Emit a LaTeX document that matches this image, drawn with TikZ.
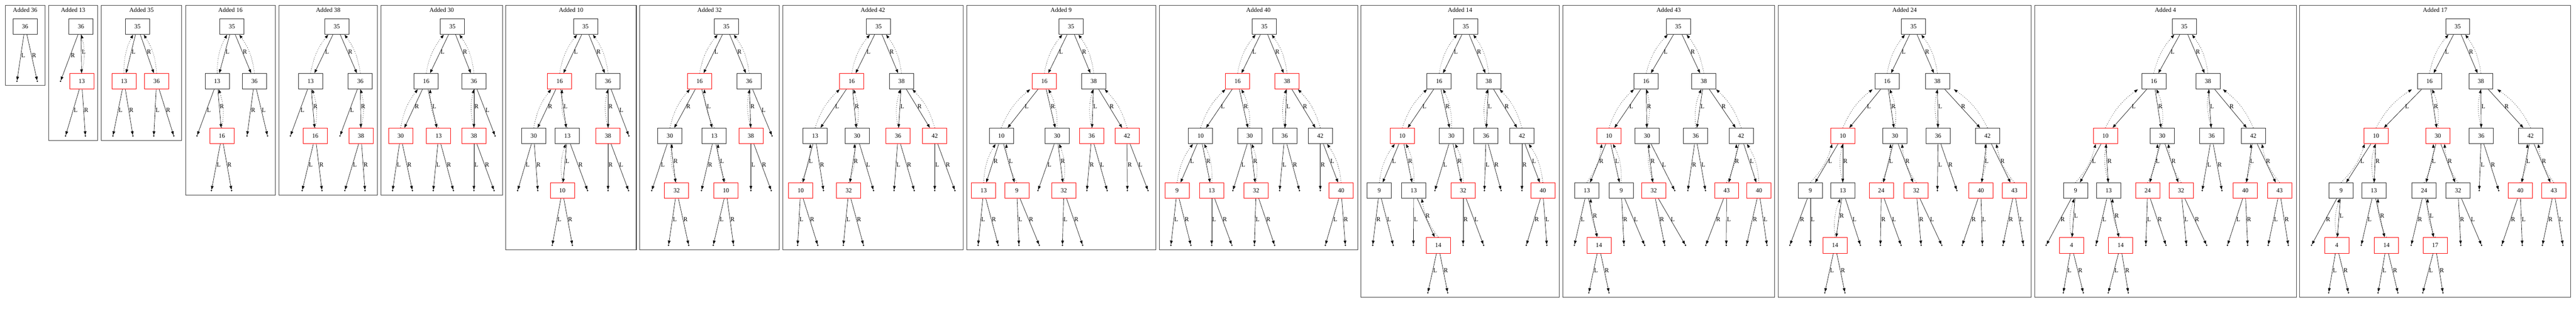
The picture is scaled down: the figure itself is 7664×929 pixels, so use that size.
\documentclass[tikz,border=0pt]{standalone}
\usepackage{fontspec}
\setmainfont{Liberation Serif}
\usepackage{tikz}
\usetikzlibrary{calc,arrows.meta}
\tikzset{>={Triangle[length=11pt,width=8pt]},
    blk/.style={draw=black!85, line width=1.3pt, minimum width=72pt, minimum height=47pt, inner sep=0pt},
    rd/.style={blk, draw=red}}

\begin{document}
\begin{tikzpicture}[x=1pt, y=-1pt, line width=1pt,
      font=\fontsize{18.5}{20}\selectfont,
      frame/.style={draw=black!75, line width=1.6pt},
      nil/.style={circle, fill=black, inner sep=0pt, minimum size=4.5pt},
      lab/.style={anchor=west, inner sep=1pt, pos=.45},
      pl/.style={->, dash pattern=on 1.5pt off 4.5pt, bend left=14},
      pr/.style={->, dash pattern=on 1.5pt off 4.5pt, bend right=14}]
  \useasboundingbox (0,0) rectangle (7664,929);
  % Added 36
  \draw[frame] (15.5,15.5) rectangle (134,254);
  \node (aT) at (74.75,29) {Added 36};
  \foreach \n/\x/\l/\s in {36/74.6/0/blk}
    \node[\s] (a\n) at (\x,79+162.5*\l) {\n};
  \foreach \n/\x/\l in {36L/50.5/1, 36R/111/1}
    \node[nil] (a\n) at (\x,79+162.5*\l) {};
  \foreach \p/\l/\r in {36/36L/36R}
    {\draw[->] (a\p) -- node[lab] {L} (a\l);
     \draw[->] (a\p) -- node[lab] {R} (a\r);}
  % Added 13
  \draw[frame] (145,15.5) rectangle (290,417);
  \node (bT) at (217.5,29) {Added 13};
  \foreach \n/\x/\l/\s in {36/241/0/blk, 13/243/1/rd}
    \node[\s] (b\n) at (\x,79+162.5*\l) {\n};
  \foreach \n/\x/\l in {36R/180/1, 13L/195/2, 13R/254/2}
    \node[nil] (b\n) at (\x,79+162.5*\l) {};
  \foreach \p/\l/\r in {36/13/36R, 13/13L/13R}
    {\draw[->] (b\p) -- node[lab] {L} (b\l);
     \draw[->] (b\p) -- node[lab] {R} (b\r);}
  \foreach \c/\p/\b in {13/36/pr}
    \draw[\b] (b\c.north) to ($(b\p.south)!.33!(b\p.south-|b\c)$);
  % Added 35
  \draw[frame] (301,15.5) rectangle (541,417);
  \node (cT) at (421,29) {Added 35};
  \foreach \n/\x/\l/\s in {35/409/0/blk, 13/369/1/rd, 36/466/1/rd}
    \node[\s] (c\n) at (\x,79+162.5*\l) {\n};
  \foreach \n/\x/\l in {13L/336/2, 13R/395.5/2, 36L/457.5/2, 36R/517/2}
    \node[nil] (c\n) at (\x,79+162.5*\l) {};
  \foreach \p/\l/\r in {35/13/36, 13/13L/13R, 36/36L/36R}
    {\draw[->] (c\p) -- node[lab] {L} (c\l);
     \draw[->] (c\p) -- node[lab] {R} (c\r);}
  \foreach \c/\p/\b in {13/35/pl, 36/35/pr}
    \draw[\b] (c\c.north) to ($(c\p.south)!.33!(c\p.south-|c\c)$);
  % Added 16
  \draw[frame] (552,15.5) rectangle (819,580);
  \node (dT) at (685.5,29) {Added 16};
  \foreach \n/\x/\l/\s in {35/690/0/blk, 13/646/1/blk, 36/757/1/blk, 16/660/2/rd}
    \node[\s] (d\n) at (\x,79+162.5*\l) {\n};
  \foreach \n/\x/\l in {13L/586/2, 36R/735/2, 36L/796/2, 16L/629/3, 16R/689/3}
    \node[nil] (d\n) at (\x,79+162.5*\l) {};
  \foreach \p/\l/\r in {35/13/36, 13/13L/16, 36/36L/36R, 16/16L/16R}
    {\draw[->] (d\p) -- node[lab] {L} (d\l);
     \draw[->] (d\p) -- node[lab] {R} (d\r);}
  \foreach \c/\p/\b in {13/35/pl, 36/35/pr, 16/13/pr}
    \draw[\b] (d\c.north) to ($(d\p.south)!.33!(d\p.south-|d\c)$);
  % Added 38
  \draw[frame] (829.5,15.5) rectangle (1123,580);
  \node (eT) at (976.25,29) {Added 38};
  \foreach \n/\x/\l/\s in {35/1002/0/blk, 13/924/1/blk, 36/1072/1/blk, 16/938/2/rd, 38/1074/2/rd}
    \node[\s] (e\n) at (\x,79+162.5*\l) {\n};
  \foreach \n/\x/\l in {13L/864/2, 36L/1011.5/2, 16L/899/3, 16R/958/3, 38L/1026/3, 38R/1086/3}
    \node[nil] (e\n) at (\x,79+162.5*\l) {};
  \foreach \p/\l/\r in {35/13/36, 13/13L/16, 36/36L/38, 16/16L/16R, 38/38L/38R}
    {\draw[->] (e\p) -- node[lab] {L} (e\l);
     \draw[->] (e\p) -- node[lab] {R} (e\r);}
  \foreach \c/\p/\b in {13/35/pl, 36/35/pr, 16/13/pr, 38/36/pr}
    \draw[\b] (e\c.north) to ($(e\p.south)!.33!(e\p.south-|e\c)$);
  % Added 30
  \draw[frame] (1133,15.5) rectangle (1495,580);
  \node (fT) at (1314,29) {Added 30};
  \foreach \n/\x/\l/\s in {35/1346/0/blk, 16/1268/1/blk, 36/1410/1/blk, 30/1192/2/rd, 13/1305/2/rd, 38/1410/2/rd}
    \node[\s] (f\n) at (\x,79+162.5*\l) {\n};
  \foreach \n/\x/\l in {36L/1473/2, 30L/1168/3, 30R/1227/3, 13L/1289/3, 13R/1349/3, 38L/1410/3, 38R/1470/3}
    \node[nil] (f\n) at (\x,79+162.5*\l) {};
  \foreach \p/\l/\r in {35/16/36, 16/13/30, 36/36L/38, 30/30L/30R, 13/13L/13R, 38/38L/38R}
    {\draw[->] (f\p) -- node[lab] {L} (f\l);
     \draw[->] (f\p) -- node[lab] {R} (f\r);}
  \foreach \c/\p/\b in {16/35/pl, 36/35/pr, 30/16/pl, 13/16/pl, 38/36/pl}
    \draw[\b] (f\c.north) to ($(f\p.south)!.33!(f\p.south-|f\c)$);
  % Added 10
  \draw[frame] (1505,15.5) rectangle (1893,743);
  \node (gT) at (1699,29) {Added 10};
  \foreach \n/\x/\l/\s in {35/1742/0/blk, 16/1665/1/rd, 36/1809/1/blk, 30/1588/2/blk, 13/1688/2/blk, 38/1809/2/rd, 10/1673/3/rd}
    \node[\s] (g\n) at (\x,79+162.5*\l) {\n};
  \foreach \n/\x/\l in {36L/1871/2, 30L/1540/3, 30R/1600/3, 13R/1748/3, 38R/1809/3, 38L/1870/3, 10L/1643/4, 10R/1703/4}
    \node[nil] (g\n) at (\x,79+162.5*\l) {};
  \foreach \p/\l/\r in {35/16/36, 16/13/30, 36/36L/38, 30/30L/30R, 13/10/13R, 38/38L/38R, 10/10L/10R}
    {\draw[->] (g\p) -- node[lab] {L} (g\l);
     \draw[->] (g\p) -- node[lab] {R} (g\r);}
  \foreach \c/\p/\b in {16/35/pl, 36/35/pr, 30/16/pl, 13/16/pl, 38/36/pl, 10/13/pl}
    \draw[\b] (g\c.north) to ($(g\p.south)!.33!(g\p.south-|g\c)$);
  % Added 32
  \draw[frame] (1903.5,15.5) rectangle (2318.5,743);
  \node (hT) at (2111,29) {Added 32};
  \foreach \n/\x/\l/\s in {35/2161/0/blk, 16/2081.5/1/rd, 36/2229/1/blk, 30/1993/2/blk, 13/2125/2/blk, 38/2234/2/rd, 32/2013/3/rd, 10/2160/3/rd}
    \node[\s] (h\n) at (\x,79+162.5*\l) {\n};
  \foreach \n/\x/\l in {36L/2297/2, 30L/1939/3, 13R/2087/3, 38L/2234/3, 38R/2294.5/3, 32L/1989/4, 32R/2049/4, 10L/2122/4, 10R/2182.5/4}
    \node[nil] (h\n) at (\x,79+162.5*\l) {};
  \foreach \p/\l/\r in {35/16/36, 16/13/30, 36/36L/38, 30/30L/32, 13/10/13R, 38/38L/38R, 32/32L/32R, 10/10L/10R}
    {\draw[->] (h\p) -- node[lab] {L} (h\l);
     \draw[->] (h\p) -- node[lab] {R} (h\r);}
  \foreach \c/\p/\b in {16/35/pl, 36/35/pr, 30/16/pl, 13/16/pl, 38/36/pl, 32/30/pl, 10/13/pl}
    \draw[\b] (h\c.north) to ($(h\p.south)!.33!(h\p.south-|h\c)$);
  % Added 42
  \draw[frame] (2329,15.5) rectangle (2865,743);
  \node (iT) at (2597,29) {Added 42};
  \foreach \n/\x/\l/\s in {35/2614/0/blk, 16/2534/1/rd, 38/2682/1/blk, 13/2425/2/blk, 30/2550/2/blk, 36/2672/2/rd, 42/2781/2/rd, 10/2382/3/rd, 32/2525/3/rd}
    \node[\s] (i\n) at (\x,79+162.5*\l) {\n};
  \foreach \n/\x/\l in {13R/2450/3, 30L/2599/3, 36L/2660/3, 36R/2720/3, 42L/2781/3, 42R/2841/3, 10L/2373/4, 10R/2433/4, 32L/2509/4, 32R/2569/4}
    \node[nil] (i\n) at (\x,79+162.5*\l) {};
  \foreach \p/\l/\r in {35/16/38, 16/13/30, 38/36/42, 13/10/13R, 30/30L/32, 36/36L/36R, 42/42L/42R, 10/10L/10R, 32/32L/32R}
    {\draw[->] (i\p) -- node[lab] {L} (i\l);
     \draw[->] (i\p) -- node[lab] {R} (i\r);}
  \foreach \c/\p/\b in {16/35/pl, 38/35/pr, 13/16/pl, 30/16/pr, 10/13/pr, 32/30/pr, 36/38/pl, 42/38/pr}
    \draw[\b] (i\c.north) to ($(i\p.south)!.33!(i\p.south-|i\c)$);
  % Added 9
  \draw[frame] (2876,15.5) rectangle (3438.5,743);
  \node (jT) at (3157,29) {Added 9};
  \foreach \n/\x/\l/\s in {35/3186.5/0/blk, 16/3107/1/rd, 38/3254/1/blk, 10/2979/2/blk, 30/3145/2/blk, 36/3248/2/rd, 42/3353/2/rd, 13/2926.5/3/rd, 9/3025/3/rd, 32/3165/3/rd}
    \node[\s] (j\n) at (\x,79+162.5*\l) {\n};
  \foreach \n/\x/\l in {30L/3088/3, 36R/3233.6/3, 36L/3294/3, 42R/3354/3, 42L/3415.6/3, 13L/2910/4, 13R/2970/4, 9L/3031.5/4, 9R/3092/4, 32L/3161/4, 32R/3221/4}
    \node[nil] (j\n) at (\x,79+162.5*\l) {};
  \foreach \p/\l/\r in {35/16/38, 16/10/30, 38/36/42, 10/9/13, 30/30L/32, 36/36L/36R, 42/42L/42R, 13/13L/13R, 9/9L/9R, 32/32L/32R}
    {\draw[->] (j\p) -- node[lab] {L} (j\l);
     \draw[->] (j\p) -- node[lab] {R} (j\r);}
  \foreach \c/\p/\b in {16/35/pl, 38/35/pr, 10/16/pl, 30/16/pr, 13/10/pl, 9/10/pl, 32/30/pr, 36/38/pl, 42/38/pr}
    \draw[\b] (j\c.north) to ($(j\p.south)!.33!(j\p.south-|j\c)$);
  % Added 40
  \draw[frame] (3449,15.5) rectangle (4039,743);
  \node (kT) at (3744,29) {Added 40};
  \foreach \n/\x/\l/\s in {35/3761.5/0/blk, 16/3682/1/rd, 38/3829/1/rd, 10/3572/2/blk, 30/3718/2/blk, 36/3822/2/blk, 42/3928/2/blk, 9/3502/3/rd, 13/3605/3/rd, 32/3737/3/rd, 40/3990/3/rd}
    \node[\s] (k\n) at (\x,79+162.5*\l) {\n};
  \foreach \n/\x/\l in {30L/3668/3, 36L/3807/3, 36R/3866/3, 42R/3928/3, 9L/3483.6/4, 9R/3543/4, 13L/3605/4, 13R/3665/4, 32L/3732/4, 32R/3792/4, 40L/3943/4, 40R/4002.6/4}
    \node[nil] (k\n) at (\x,79+162.5*\l) {};
  \foreach \p/\l/\r in {35/16/38, 16/10/30, 38/36/42, 10/9/13, 30/30L/32, 36/36L/36R, 42/40/42R, 9/9L/9R, 13/13L/13R, 32/32L/32R, 40/40L/40R}
    {\draw[->] (k\p) -- node[lab] {L} (k\l);
     \draw[->] (k\p) -- node[lab] {R} (k\r);}
  \foreach \c/\p/\b in {16/35/pl, 38/35/pr, 10/16/pl, 30/16/pr, 36/38/pl, 42/38/pr, 9/10/pl, 13/10/pr, 32/30/pr, 40/42/pr}
    \draw[\b] (k\c.north) to ($(k\p.south)!.33!(k\p.south-|k\c)$);
  % Added 14
  \draw[frame] (4049,15.5) rectangle (4638.6,884);
  \node (lT) at (4343.8,29) {Added 14};
  \foreach \n/\x/\l/\s in {35/4361/0/blk, 16/4281.6/1/blk, 38/4429/1/blk, 10/4172/2/rd, 30/4318/2/blk, 36/4421/2/blk, 42/4528/2/blk, 9/4103.6/3/blk, 13/4206/3/blk, 32/4353/3/rd, 40/4590/3/rd, 14/4279/4/rd}
    \node[\s] (l\n) at (\x,79+162.5*\l) {\n};
  \foreach \n/\x/\l in {30L/4269/3, 36L/4416.4/3, 36R/4466/3, 42R/4528/3, 9R/4084/4, 9L/4145/4, 13L/4205/4, 32R/4353/4, 32L/4414/4, 40R/4541/4, 40L/4602/4, 14L/4248/4.87, 14R/4307/4.87}
    \node[nil] (l\n) at (\x,79+162.5*\l) {};
  \foreach \p/\l/\r in {35/16/38, 16/10/30, 38/36/42, 10/9/13, 30/30L/32, 36/36L/36R, 42/40/42R, 9/9L/9R, 13/13L/14, 32/32L/32R, 40/40L/40R, 14/14L/14R}
    {\draw[->] (l\p) -- node[lab] {L} (l\l);
     \draw[->] (l\p) -- node[lab] {R} (l\r);}
  \foreach \c/\p/\b in {16/35/pl, 38/35/pr, 10/16/pl, 30/16/pr, 36/38/pl, 42/38/pr, 9/10/pl, 13/10/pr, 32/30/pr, 40/42/pr, 14/13/pl}
    \draw[\b] (l\c.north) to ($(l\p.south)!.33!(l\p.south-|l\c)$);
  % Added 43
  \draw[frame] (4649,15.5) rectangle (5280,884);
  \node (mT) at (4964.5,29) {Added 43};
  \foreach \n/\x/\l/\s in {35/4993/0/blk, 16/4897.5/1/blk, 38/5069/1/blk, 10/4787/2/rd, 30/4900/2/blk, 36/5045/2/blk, 42/5180/2/blk, 13/4721/3/blk, 9/4823.5/3/blk, 32/4920/3/rd, 43/5137/3/rd, 40/5233/3/rd, 14/4757/4/rd}
    \node[\s] (m\n) at (\x,79+162.5*\l) {\n};
  \foreach \n/\x/\l in {30L/4982.5/3, 36R/5021.5/3, 36L/5074/3, 13L/4684/4, 9R/4831.5/4, 9L/4893/4, 32R/4952.6/4, 32L/5014.6/4, 43R/5075/4, 43L/5136/4, 40R/5196/4, 40L/5257/4, 14L/4727/4.87, 14R/4787/4.87}
    \node[nil] (m\n) at (\x,79+162.5*\l) {};
  \foreach \p/\l/\r in {35/16/38, 16/10/30, 38/36/42, 10/9/13, 30/30L/32, 36/36L/36R, 42/40/43, 13/13L/14, 9/9L/9R, 32/32L/32R, 43/43L/43R, 40/40L/40R, 14/14L/14R}
    {\draw[->] (m\p) -- node[lab] {L} (m\l);
     \draw[->] (m\p) -- node[lab] {R} (m\r);}
  \foreach \c/\p/\b in {16/35/pl, 38/35/pr, 10/16/pl, 30/16/pr, 36/38/pl, 42/38/pr, 13/10/pr, 9/10/pr, 32/30/pl, 43/42/pr, 40/42/pr, 14/13/pl}
    \draw[\b] (m\c.north) to ($(m\p.south)!.33!(m\p.south-|m\c)$);
  % Added 24
  \draw[frame] (5290,15.5) rectangle (6043,884);
  \node (nT) at (5666.5,29) {Added 24};
  \foreach \n/\x/\l/\s in {35/5693/0/blk, 16/5614.6/1/blk, 38/5764/1/blk, 10/5482.5/2/rd, 30/5638/2/blk, 36/5766/2/blk, 42/5913/2/blk, 9/5386/3/blk, 13/5482.5/3/blk, 24/5597/3/rd, 32/5701/3/rd, 40/5893/3/rd, 43/5993/3/rd, 14/5459.6/4/rd}
    \node[\s] (n\n) at (\x,79+162.5*\l) {\n};
  \foreach \n/\x/\l in {36L/5764/3, 36R/5822/3, 9R/5325/4, 9L/5386/4, 13L/5535/4, 24R/5594.5/4, 24L/5656/4, 32R/5715.6/4, 32L/5777/4, 40R/5838/4, 40L/5898/4, 43R/5959/4, 43L/6020/4, 14L/5429/4.87, 14R/5489/4.87}
    \node[nil] (n\n) at (\x,79+162.5*\l) {};
  \foreach \p/\l/\r in {35/16/38, 16/10/30, 38/36/42, 10/9/13, 30/24/32, 36/36L/36R, 42/40/43, 9/9L/9R, 13/13L/14, 24/24L/24R, 32/32L/32R, 40/40L/40R, 43/43L/43R, 14/14L/14R}
    {\draw[->] (n\p) -- node[lab] {L} (n\l);
     \draw[->] (n\p) -- node[lab] {R} (n\r);}
  \foreach \c/\p/\b in {16/35/pl, 38/35/pr, 10/16/pl, 30/16/pr, 36/38/pl, 42/38/pr, 9/10/pr, 13/10/pl, 24/30/pr, 32/30/pl, 40/42/pr, 43/42/pl, 14/13/pl}
    \draw[\b] (n\c.north) to ($(n\p.south)!.33!(n\p.south-|n\c)$);
  % Added 4
  \draw[frame] (6053,15.5) rectangle (6832,884);
  \node (oT) at (6442.5,29) {Added 4};
  \foreach \n/\x/\l/\s in {35/6498.6/0/blk, 16/6408/1/blk, 38/6569/1/blk, 10/6264/2/rd, 30/6433/2/blk, 36/6580/2/blk, 42/6704/2/blk, 9/6175/3/blk, 13/6273.5/3/blk, 24/6389.5/3/rd, 32/6489/3/rd, 40/6680/3/rd, 43/6782/3/rd, 4/6163/4/rd, 14/6309/4/rd}
    \node[\s] (o\n) at (\x,79+162.5*\l) {\n};
  \foreach \n/\x/\l in {36L/6552/3, 36R/6610.5/3, 9R/6087.6/4, 13L/6235.7/4, 24L/6384/4, 24R/6444/4, 32L/6505/4, 32R/6565/4, 40L/6627/4, 40R/6687/4, 43L/6748/4, 43R/6808/4, 4L/6138.6/4.87, 4R/6198/4.87, 14L/6272.4/4.87, 14R/6332/4.87}
    \node[nil] (o\n) at (\x,79+162.5*\l) {};
  \foreach \p/\l/\r in {35/16/38, 16/10/30, 38/36/42, 10/9/13, 30/24/32, 36/36L/36R, 42/40/43, 9/4/9R, 13/13L/14, 24/24L/24R, 32/32L/32R, 40/40L/40R, 43/43L/43R, 4/4L/4R, 14/14L/14R}
    {\draw[->] (o\p) -- node[lab] {L} (o\l);
     \draw[->] (o\p) -- node[lab] {R} (o\r);}
  \foreach \c/\p/\b in {16/35/pl, 38/35/pr, 10/16/pl, 30/16/pr, 36/38/pl, 42/38/pr, 9/10/pr, 13/10/pl, 24/30/pr, 32/30/pl, 40/42/pr, 43/42/pl, 4/9/pl, 14/13/pl}
    \draw[\b] (o\c.north) to ($(o\p.south)!.33!(o\p.south-|o\c)$);
  % Added 17
  \draw[frame] (6841.7,15.5) rectangle (7648,884);
  \node (pT) at (7244.85,29) {Added 17};
  \foreach \n/\x/\l/\s in {35/7312/0/blk, 16/7228/1/blk, 38/7381/1/blk, 10/7069/2/rd, 30/7253/2/rd, 36/7382/2/blk, 42/7529/2/blk, 9/6965/3/blk, 13/7062.5/3/blk, 24/7212/3/blk, 32/7313/3/blk, 40/7498/3/rd, 43/7598/3/rd, 4/6952/4/rd, 14/7100/4/rd, 17/7245/4/rd}
    \node[\s] (p\n) at (\x,79+162.5*\l) {\n};
  \foreach \n/\x/\l in {36L/7376/3, 36R/7434/3, 9R/6877/4, 13L/7025/4, 24R/7173.6/4, 32R/7321/4, 32L/7383/4, 40R/7443/4, 40L/7504/4, 43R/7564/4, 43L/7625/4, 4L/6928/4.87, 4R/6987/4.87, 14L/7075/4.87, 14R/7134/4.87, 17L/7208/4.87, 17R/7268/4.87}
    \node[nil] (p\n) at (\x,79+162.5*\l) {};
  \foreach \p/\l/\r in {35/16/38, 16/10/30, 38/36/42, 10/9/13, 30/24/32, 36/36L/36R, 42/40/43, 9/4/9R, 13/13L/14, 24/17/24R, 32/32L/32R, 40/40L/40R, 43/43L/43R, 4/4L/4R, 14/14L/14R, 17/17L/17R}
    {\draw[->] (p\p) -- node[lab] {L} (p\l);
     \draw[->] (p\p) -- node[lab] {R} (p\r);}
  \foreach \c/\p/\b in {16/35/pl, 38/35/pr, 10/16/pl, 30/16/pr, 36/38/pl, 42/38/pr, 9/10/pr, 13/10/pl, 24/30/pr, 32/30/pl, 40/42/pr, 43/42/pl, 4/9/pl, 14/13/pl, 17/24/pl}
    \draw[\b] (p\c.north) to ($(p\p.south)!.33!(p\p.south-|p\c)$);
\end{tikzpicture}
\end{document}
